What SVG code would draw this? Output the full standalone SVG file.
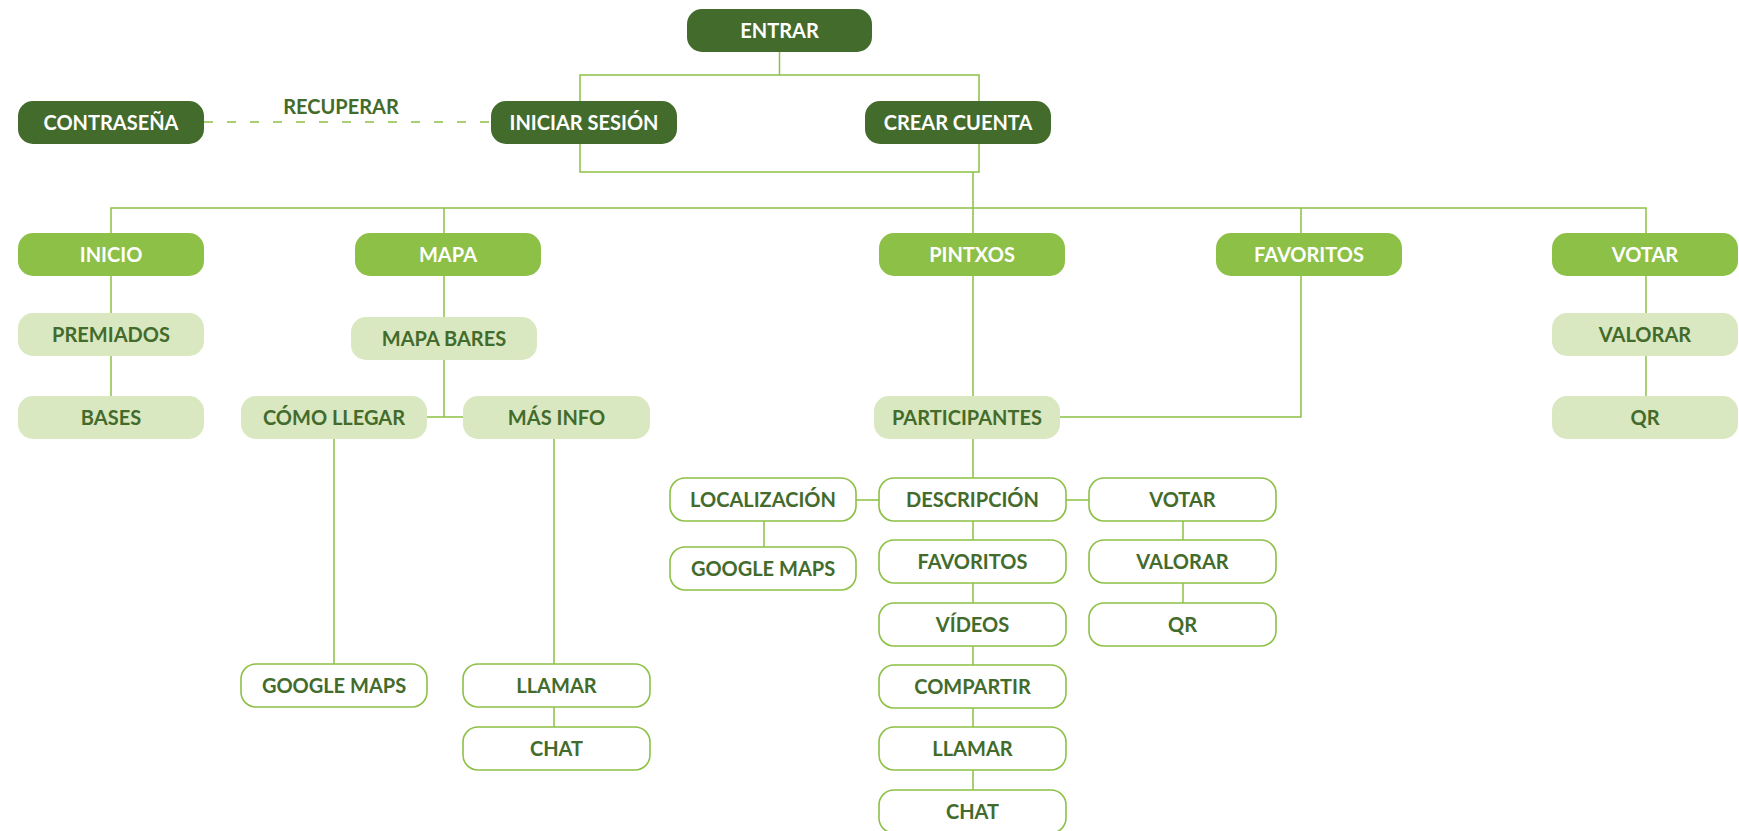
<svg xmlns="http://www.w3.org/2000/svg" width="1739" height="831" viewBox="0 0 1739 831">
<style>
.dk{fill:#436B2C}
.md{fill:#8DC046}
.lt{fill:#D9E8C1}
.ol{fill:#FFFFFF;stroke:#8DC046;stroke-width:1.6}
text{font-family:Lato,"Open Sans","Liberation Sans",sans-serif;font-weight:700;font-size:20px;text-anchor:middle}
.w{fill:#FFFFFF}
.g{fill:#436B2C}
.cn{fill:none;stroke:#8DC046;stroke-width:1.5}
.dash{stroke-dasharray:9 14}
</style>
<rect width="1739" height="831" fill="#FFFFFF"/>
<g id="connectors" class="cn">
<path d="M779.5,52 V75 M580,101 V75 H979 V101"/>
<path d="M580,144 V172 H979 V144"/>
<path d="M973,172 V233 M973,276 V790"/>
<path d="M111,233 V208 H1646 V233 M444,208 V233 M1301,208 V233"/>
<path d="M111,276 V396"/>
<path d="M444,276 V417 M426,417 H463"/>
<path d="M334,438 V664 M554,438 V727"/>
<path d="M1301,276 V417 H1060"/>
<path d="M1646,276 V396"/>
<path d="M764,521 V547"/>
<path d="M856,500 H879 M1066,500 H1089"/>
<path d="M1183,521 V603"/>
<path class="dash" d="M204,122 H491"/>
</g>
<text id="lbl-recuperar" class="g" x="341" y="114">RECUPERAR</text>
<g id="n-entrar"><rect class="dk" x="687" y="9" width="185" height="43" rx="15"/><text class="w" x="779.5" y="37.5">ENTRAR</text></g>
<g id="n-contrasena"><rect class="dk" x="18" y="101" width="186" height="43" rx="15"/><text class="w" x="111" y="129.5">CONTRASEÑA</text></g>
<g id="n-iniciar"><rect class="dk" x="491" y="101" width="186" height="43" rx="15"/><text class="w" x="584" y="129.5">INICIAR SESIÓN</text></g>
<g id="n-crear"><rect class="dk" x="865" y="101" width="186" height="43" rx="15"/><text class="w" x="958" y="129.5">CREAR CUENTA</text></g>
<g id="n-inicio"><rect class="md" x="18" y="233" width="186" height="43" rx="15"/><text class="w" x="111" y="261.5">INICIO</text></g>
<g id="n-mapa"><rect class="md" x="355" y="233" width="186" height="43" rx="15"/><text class="w" x="448" y="261.5">MAPA</text></g>
<g id="n-pintxos"><rect class="md" x="879" y="233" width="186" height="43" rx="15"/><text class="w" x="972" y="261.5">PINTXOS</text></g>
<g id="n-favoritos"><rect class="md" x="1216" y="233" width="186" height="43" rx="15"/><text class="w" x="1309" y="261.5">FAVORITOS</text></g>
<g id="n-votar"><rect class="md" x="1552" y="233" width="186" height="43" rx="15"/><text class="w" x="1645" y="261.5">VOTAR</text></g>
<g id="n-premiados"><rect class="lt" x="18" y="313" width="186" height="43" rx="15"/><text class="g" x="111" y="341.5">PREMIADOS</text></g>
<g id="n-bases"><rect class="lt" x="18" y="396" width="186" height="43" rx="15"/><text class="g" x="111" y="424.5">BASES</text></g>
<g id="n-mapabares"><rect class="lt" x="351" y="317" width="186" height="43" rx="15"/><text class="g" x="444" y="345.5">MAPA BARES</text></g>
<g id="n-comollegar"><rect class="lt" x="241" y="396" width="186" height="43" rx="15"/><text class="g" x="334" y="424.5">CÓMO LLEGAR</text></g>
<g id="n-masinfo"><rect class="lt" x="463" y="396" width="187" height="43" rx="15"/><text class="g" x="556.5" y="424.5">MÁS INFO</text></g>
<g id="n-participantes"><rect class="lt" x="874" y="396" width="186" height="43" rx="15"/><text class="g" x="967" y="424.5">PARTICIPANTES</text></g>
<g id="n-valorar"><rect class="lt" x="1552" y="313" width="186" height="43" rx="15"/><text class="g" x="1645" y="341.5">VALORAR</text></g>
<g id="n-qr"><rect class="lt" x="1552" y="396" width="186" height="43" rx="15"/><text class="g" x="1645" y="424.5">QR</text></g>
<g id="n-googlemaps1"><rect class="ol" x="241" y="664" width="186" height="43" rx="15"/><text class="g" x="334" y="692.5">GOOGLE MAPS</text></g>
<g id="n-llamar1"><rect class="ol" x="463" y="664" width="187" height="43" rx="15"/><text class="g" x="556.5" y="692.5">LLAMAR</text></g>
<g id="n-chat1"><rect class="ol" x="463" y="727" width="187" height="43" rx="15"/><text class="g" x="556.5" y="755.5">CHAT</text></g>
<g id="n-localizacion"><rect class="ol" x="670" y="478" width="186" height="43" rx="15"/><text class="g" x="763" y="506.5">LOCALIZACIÓN</text></g>
<g id="n-googlemaps2"><rect class="ol" x="670" y="547" width="186" height="43" rx="15"/><text class="g" x="763" y="575.5">GOOGLE MAPS</text></g>
<g id="n-descripcion"><rect class="ol" x="879" y="478" width="187" height="43" rx="15"/><text class="g" x="972.5" y="506.5">DESCRIPCIÓN</text></g>
<g id="n-favoritos2"><rect class="ol" x="879" y="540" width="187" height="43" rx="15"/><text class="g" x="972.5" y="568.5">FAVORITOS</text></g>
<g id="n-videos"><rect class="ol" x="879" y="603" width="187" height="43" rx="15"/><text class="g" x="972.5" y="631.5">VÍDEOS</text></g>
<g id="n-compartir"><rect class="ol" x="879" y="665" width="187" height="43" rx="15"/><text class="g" x="972.5" y="693.5">COMPARTIR</text></g>
<g id="n-llamar2"><rect class="ol" x="879" y="727" width="187" height="43" rx="15"/><text class="g" x="972.5" y="755.5">LLAMAR</text></g>
<g id="n-chat2"><rect class="ol" x="879" y="790" width="187" height="43" rx="15"/><text class="g" x="972.5" y="818.5">CHAT</text></g>
<g id="n-votar2"><rect class="ol" x="1089" y="478" width="187" height="43" rx="15"/><text class="g" x="1182.5" y="506.5">VOTAR</text></g>
<g id="n-valorar2"><rect class="ol" x="1089" y="540" width="187" height="43" rx="15"/><text class="g" x="1182.5" y="568.5">VALORAR</text></g>
<g id="n-qr2"><rect class="ol" x="1089" y="603" width="187" height="43" rx="15"/><text class="g" x="1182.5" y="631.5">QR</text></g>
</svg>
